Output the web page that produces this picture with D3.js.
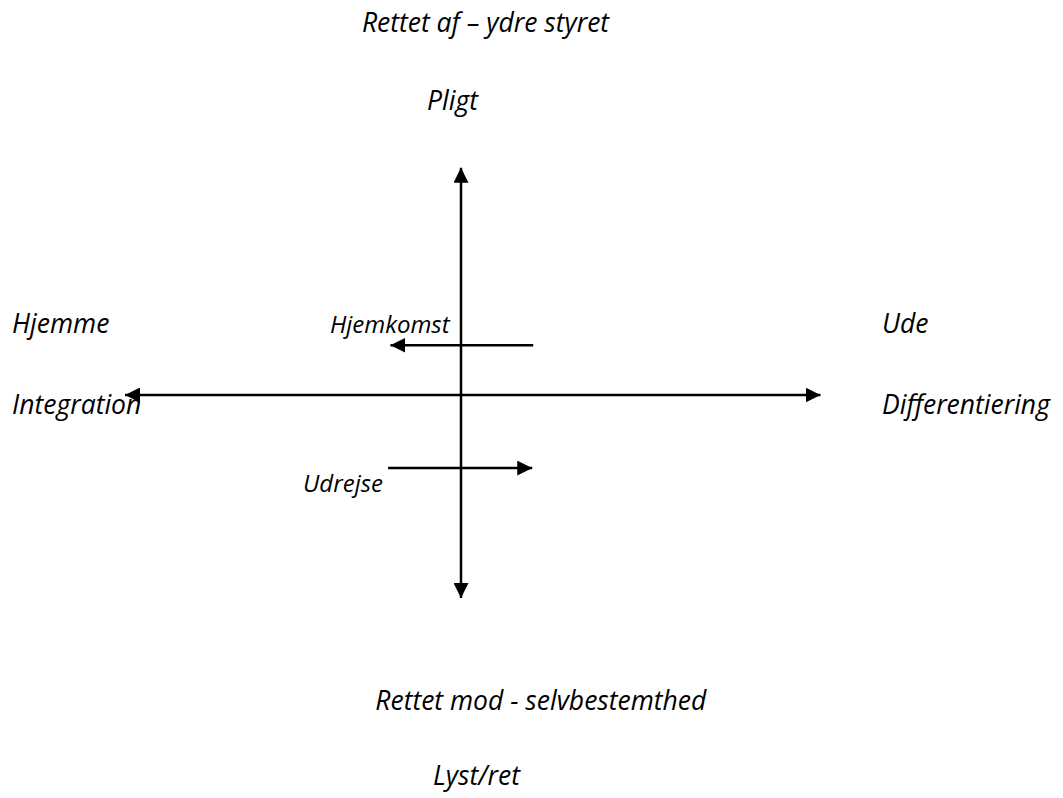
<!DOCTYPE html>
<html>
<head>
<meta charset="utf-8">
<script src="https://cdn.jsdelivr.net/npm/d3@7"></script>
<style>
  html, body { margin: 0; padding: 0; background: #fff; }
  text { font-family: "Open Sans", Lato, sans-serif; font-style: italic; fill: #000; }
</style>
</head>
<body>
<div id="chart"></div>
<script>
// diagram units: centre of the cross is (0,0)
const axisNames = ['horizontal', 'vertical'];
const axisFrom = [[-10, 0], [0, -10]];
const axisTo = [[10.7, 0], [0, 11.2]];

// the two short movement arrows
const moveNames = ['Hjemkomst', 'Udrejse'];
const moveFrom = [[2.15, 2.45], [-2.17, -3.6]];
const moveTo = [[-2.1, 2.45], [2.12, -3.6]];

// labels round the cross
const labelTexts = ['Rettet af \u2013 ydre styret', 'Pligt', 'Hjemme', 'Hjemkomst', 'Ude',
  'Integration', 'Differentiering', 'Udrejse', 'Rettet mod - selvbestemthed', 'Lyst/ret'];
const labelX = [-2.95, -1.01, -13.36, -3.9, 12.53, -13.36, 12.53, -4.7, -2.55, -0.83];
const labelY = [17.88, 14.04, 3.05, 3.05, 3.05, -0.94, -0.94, -4.78, -15.52, -19.2];
const labelSmall = [false, false, false, true, false, false, false, true, false, false];

document.addEventListener("DOMContentLoaded", function () {
  const width = 1063, height = 798;

  const x = d3.scaleLinear().domain([-10, 10]).range([125, 797]);
  const y = d3.scaleLinear().domain([-10, 10]).range([598, 192]);

  const svg = d3.select('#chart')
    .append('svg')
    .attr('width', width)
    .attr('height', height);

  svg.append('defs').append('marker')
    .attr('id', 'head')
    .attr('viewBox', '0 0 10 10')
    .attr('refX', 10)
    .attr('refY', 5)
    .attr('markerUnits', 'userSpaceOnUse')
    .attr('markerWidth', 15)
    .attr('markerHeight', 15)
    .attr('orient', 'auto-start-reverse')
    .append('path')
    .attr('d', 'M0,0 L10,5 L0,10 Z')
    .attr('fill', '#000');

  const lines = axisNames.map((n, i) => ({ from: axisFrom[i], to: axisTo[i], both: true }))
    .concat(moveNames.map((n, i) => ({ from: moveFrom[i], to: moveTo[i], both: false })));

  svg.selectAll('.arrow')
    .data(lines)
    .enter().append('line')
    .attr('class', 'arrow')
    .attr('x1', d => x(d.from[0]))
    .attr('y1', d => y(d.from[1]))
    .attr('x2', d => x(d.to[0]))
    .attr('y2', d => y(d.to[1]))
    .attr('stroke', '#000')
    .attr('stroke-width', 2.5)
    .attr('marker-start', d => d.both ? 'url(#head)' : null)
    .attr('marker-end', 'url(#head)');

  svg.selectAll('.label')
    .data(labelTexts)
    .enter().append('text')
    .attr('class', 'label')
    .attr('x', (d, i) => x(labelX[i]))
    .attr('y', (d, i) => y(labelY[i]))
    .attr('font-size', (d, i) => labelSmall[i] ? 24 : 26.5)
    .text(d => d);
});
</script>
</body>
</html>
